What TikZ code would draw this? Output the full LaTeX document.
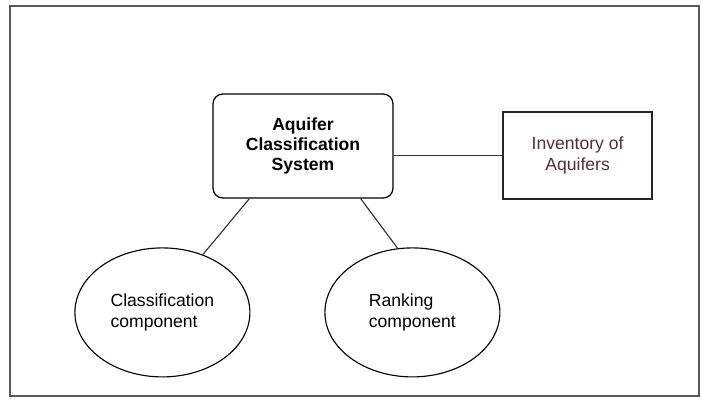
\documentclass[tikz,border=0pt]{standalone}
\usepackage{fontspec}
\setmainfont{Liberation Sans}
\usepackage{tikz}
\usetikzlibrary{shapes.geometric, positioning, calc}
\usepackage{xcolor}
\definecolor{invtext}{RGB}{84,44,62}
\definecolor{framegray}{RGB}{90,90,90}

\begin{document}
\begin{tikzpicture}[
    frame/.style = {draw=framegray, line width=1.1pt},
    sysbox/.style = {rectangle, draw=black, line width=0.9pt, rounded corners=7pt, align=center, font=\fontsize{12.5}{14.5}\selectfont\bfseries, minimum width=4.5cm, minimum height=2.6cm, inner sep=2pt},
    invbox/.style = {rectangle, draw=black!85, line width=0.9pt, align=center, text=invtext, font=\fontsize{12.5}{14.5}\selectfont, minimum width=3.725cm, minimum height=2.175cm, inner sep=2pt},
    comp/.style = {ellipse, draw=black, line width=0.8pt, align=left, font=\fontsize{12.5}{14.5}\selectfont, minimum width=4.375cm, minimum height=3.225cm, inner sep=1pt},
    link/.style = {draw=black!80, line width=0.8pt}
]
\useasboundingbox (0,0) rectangle (17.525,-10.05);

% Outer Frame
\draw [frame] (0.25,-0.15) rectangle (17.475,-9.9);

% Main Node
\node (system) [sysbox, at={(7.575,-3.65)}] {Aquifer\\Classification\\System};

% Inventory Node
\node (inventory) [invbox, at={(14.44,-3.89)}] {Inventory of\\Aquifers};

% Component Nodes
\node (classcomp) [comp, at={(4.06,-7.81)}] {Classification\\component};
\node (rankcomp) [comp, at={(10.31,-7.81)}] {Ranking\\component};

% Connections
\draw [link] (inventory.west) -- (inventory.west -| system.east);
\draw [link] ([xshift=0.925cm]system.south west) -- (classcomp.55);
\draw [link] ([xshift=-0.825cm]system.south east) -- (rankcomp.103);

\end{tikzpicture}
\end{document}
